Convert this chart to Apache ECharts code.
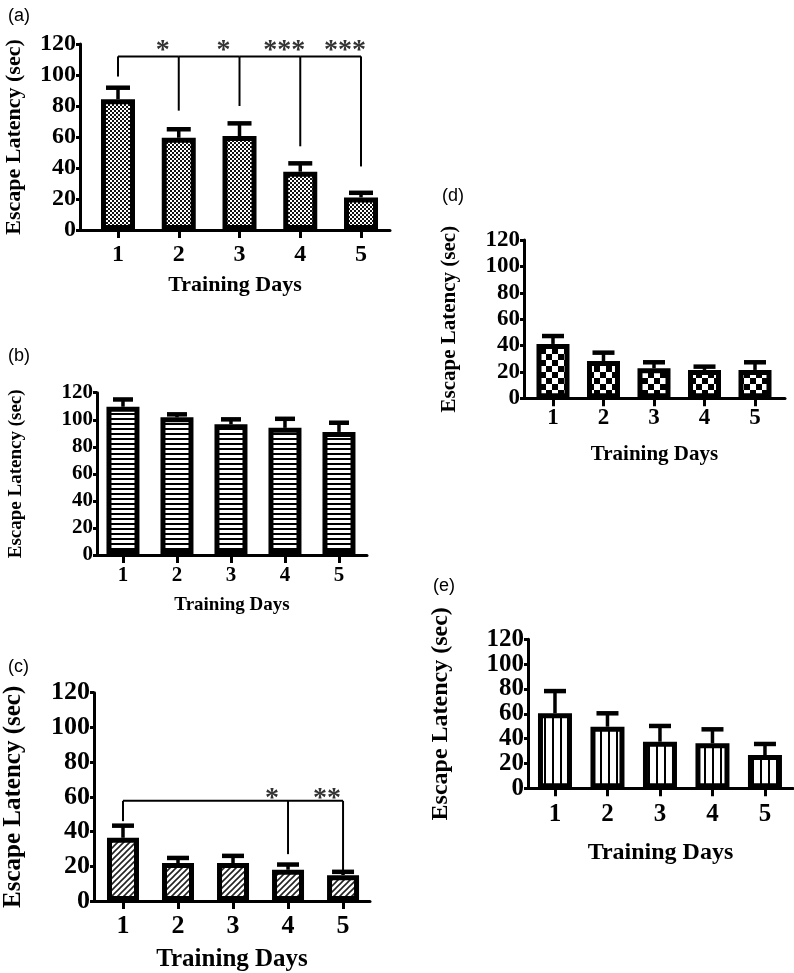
<!DOCTYPE html>
<html>
<head>
<meta charset="utf-8">
<script src="https://cdn.jsdelivr.net/npm/echarts@6/dist/echarts.min.js"></script>
<style>
html,body{margin:0;padding:0;background:#fff;}
#chart{width:794px;height:973px;}
</style>
</head>
<body>
<div id="chart"></div>
<script>
// ---- Data ----
const days = [1, 2, 3, 4, 5];
const yTicks = [0, 20, 40, 60, 80, 100, 120];

const meanA = [84.3, 59.5, 60.6, 37.6, 21.0];
const semA  = [7.5, 5.5, 8.2, 5.4, 3.0];
const meanB = [109.6, 101.8, 96.6, 94.0, 91.0];
const semB  = [5.4, 2.2, 3.7, 6.7, 6.8];
const meanC = [36.4, 21.9, 21.9, 18.0, 14.9];
const semC  = [7.0, 2.9, 4.1, 3.0, 1.9];
const meanD = [41.2, 28.3, 22.7, 21.5, 21.5];
const semD  = [6.0, 6.3, 4.6, 2.5, 5.8];
const meanE = [60.4, 49.6, 37.5, 36.2, 26.8];
const semE  = [17.9, 10.8, 12.7, 11.3, 8.9];

// significance brackets
const sigA_days  = [1, 2, 3, 4, 5];
const sigA_level = 112;
const sigA_ends  = [99, 77, 80, 54, 41];
const sigA_stars = ['', '*', '*', '***', '***'];

const sigC_days  = [1, 4, 5];
const sigC_level = 57.7;
const sigC_ends  = [46, 27, 16];
const sigC_stars = ['', '*', '**'];

const panelLabels = ['(a)', '(b)', '(c)', '(d)', '(e)'];
const xName = 'Training Days';
const yName = 'Escape Latency (sec)';

// ---- Patterns ----
function makePattern(kind) {
  const c = document.createElement('canvas');
  let ctx;
  if (kind === 'dots') {
    c.width = 4; c.height = 4; ctx = c.getContext('2d');
    ctx.fillStyle = '#fff'; ctx.fillRect(0, 0, 4, 4);
    ctx.fillStyle = '#111';
    ctx.fillRect(0, 0, 2, 2); ctx.fillRect(2, 2, 2, 2);
  } else if (kind === 'hlines') {
    c.width = 4; c.height = 5; ctx = c.getContext('2d');
    ctx.fillStyle = '#fff'; ctx.fillRect(0, 0, 4, 5);
    ctx.fillStyle = '#000'; ctx.fillRect(0, 3, 4, 2);
  } else if (kind === 'diag') {
    c.width = 6; c.height = 6; ctx = c.getContext('2d');
    ctx.fillStyle = '#fff'; ctx.fillRect(0, 0, 6, 6);
    ctx.strokeStyle = '#222'; ctx.lineWidth = 1.6;
    ctx.beginPath();
    ctx.moveTo(-1, 7); ctx.lineTo(7, -1);
    ctx.moveTo(-4, 4); ctx.lineTo(4, -4);
    ctx.moveTo(2, 10); ctx.lineTo(10, 2);
    ctx.stroke();
  } else if (kind === 'checker') {
    c.width = 12; c.height = 12; ctx = c.getContext('2d');
    ctx.fillStyle = '#fff'; ctx.fillRect(0, 0, 12, 12);
    ctx.fillStyle = '#000';
    ctx.fillRect(0, 0, 6, 6); ctx.fillRect(6, 6, 6, 6);
  } else if (kind === 'vlines') {
    c.width = 8; c.height = 4; ctx = c.getContext('2d');
    ctx.fillStyle = '#fff'; ctx.fillRect(0, 0, 8, 4);
    ctx.fillStyle = '#000'; ctx.fillRect(0, 0, 2, 4);
  }
  return { image: c, repeat: 'repeat' };
}

const SERIF = '"Liberation Serif", "Times New Roman", serif';

const panels = [
  { mean: meanA, sem: semA, pat: 'dots',    grid: { left: 80,  top: 44,    width: 310, height: 186 }, xr: [0.3745, 5.477], barW: 34, tickFont: 24, nameFont: 22, yNameGap: 55, xNameGap: 44, xLabelMargin: 13, capW: 24 },
  { mean: meanB, sem: semB, pat: 'hlines',  grid: { left: 97,  top: 392.7, width: 270, height: 162.3 }, xr: [0.519, 5.519], barW: 33, tickFont: 21, nameFont: 19, yNameGap: 71, xNameGap: 41, xLabelMargin: 10, capW: 20 },
  { mean: meanC, sem: semC, pat: 'diag',    grid: { left: 94,  top: 692.7, width: 276, height: 210 }, xr: [0.473, 5.49], barW: 32, tickFont: 26, nameFont: 25, yNameGap: 68, xNameGap: 46, xLabelMargin: 12, capW: 22 },
  { mean: meanD, sem: semD, pat: 'checker', grid: { left: 524, top: 240,   width: 261, height: 158.3 }, xr: [0.426, 5.594], barW: 33, tickFont: 23, nameFont: 21, yNameGap: 64, xNameGap: 46, xLabelMargin: 8, capW: 22 },
  { mean: meanE, sem: semE, pat: 'vlines',  grid: { left: 528, top: 639.3, width: 265, height: 149 }, xr: [0.486, 5.534], barW: 34, tickFont: 25, nameFont: 24, yNameGap: 75, xNameGap: 52, xLabelMargin: 14, capW: 22 }
];

const labelPos = [
  { left: 3, top: 2 }, { left: 3, top: 342 }, { left: 3, top: 653 }, { left: 437, top: 182 }, { left: 428, top: 572 }
];

const option = {
  backgroundColor: '#fff',
  animation: false,
  title: panelLabels.map((t, i) => ({
    text: t, left: labelPos[i].left, top: labelPos[i].top,
    textStyle: { fontFamily: '"Liberation Sans", Arial, sans-serif', fontWeight: 'normal', fontSize: 18, color: '#000' }
  })),
  grid: panels.map(p => Object.assign({ containLabel: false }, p.grid)),
  xAxis: panels.map((p, i) => ({
    type: 'value', gridIndex: i, min: p.xr[0], max: p.xr[1],
    name: xName, nameLocation: 'middle', nameGap: p.xNameGap,
    nameTextStyle: { fontFamily: SERIF, fontWeight: 'bold', fontSize: p.nameFont, color: '#000' },
    axisLine: { show: true, onZero: false, lineStyle: { color: '#000', width: 3 } },
    axisTick: { show: true, customValues: days, length: 8, lineStyle: { color: '#000', width: 3 } },
    axisLabel: { customValues: days, margin: p.xLabelMargin, fontFamily: SERIF, fontWeight: 'bold', fontSize: p.tickFont, color: '#000' },
    splitLine: { show: false }
  })),
  yAxis: panels.map((p, i) => ({
    type: 'value', gridIndex: i, min: yTicks[0], max: yTicks[yTicks.length - 1], interval: yTicks[1] - yTicks[0],
    name: yName, nameLocation: 'middle', nameGap: p.yNameGap, nameRotate: 90,
    nameTextStyle: { fontFamily: SERIF, fontWeight: 'bold', fontSize: p.nameFont, color: '#000' },
    axisLine: { show: true, lineStyle: { color: '#000', width: 3 } },
    axisTick: { show: true, length: 4, lineStyle: { color: '#000', width: 3 } },
    axisLabel: { margin: 4, fontFamily: SERIF, fontWeight: 'bold', fontSize: p.tickFont, color: '#000' },
    splitLine: { show: false }
  })),
  series: []
};

panels.forEach((p, i) => {
  option.series.push({
    type: 'bar', xAxisIndex: i, yAxisIndex: i, barWidth: p.barW,
    data: days.map((d, k) => [d, p.mean[k]]),
    itemStyle: { color: makePattern(p.pat), borderColor: '#000', borderWidth: 5 },
    z: 2
  });
  const cw = p.capW;
  option.series.push({
    type: 'custom', xAxisIndex: i, yAxisIndex: i, z: 3,
    data: days.map((d, k) => [d, p.mean[k], p.sem[k]]),
    renderItem: function (params, api) {
      const x = api.value(0), m = api.value(1), s = api.value(2);
      const p0 = api.coord([x, m]);
      const p1 = api.coord([x, m + s]);
      return {
        type: 'group', children: [
          { type: 'line', shape: { x1: p0[0], y1: p0[1], x2: p1[0], y2: p1[1] }, style: { stroke: '#000', lineWidth: 3.5 } },
          { type: 'line', shape: { x1: p1[0] - cw / 2, y1: p1[1], x2: p1[0] + cw / 2, y2: p1[1] }, style: { stroke: '#000', lineWidth: 4.5 } }
        ]
      };
    }
  });
});

function bracketSeries(axisIdx, sDays, level, ends, stars, fontSize, starDy) {
  return {
    type: 'custom', xAxisIndex: axisIdx, yAxisIndex: axisIdx, z: 4,
    data: sDays.map((d, k) => [d, ends[k], level, k > 0 ? sDays[k - 1] : d]),
    renderItem: function (params, api) {
      const x = api.value(0), e = api.value(1), lv = api.value(2), px = api.value(3);
      const top = api.coord([x, lv]);
      const bot = api.coord([x, e]);
      const prev = api.coord([px, lv]);
      const children = [
        { type: 'line', shape: { x1: top[0], y1: top[1], x2: bot[0], y2: bot[1] }, style: { stroke: '#000', lineWidth: 2 } }
      ];
      if (px !== x) {
        children.push({ type: 'line', shape: { x1: prev[0], y1: top[1], x2: top[0], y2: top[1] }, style: { stroke: '#000', lineWidth: 2 } });
      }
      const st = stars[params.dataIndex];
      if (st) {
        children.push({ type: 'text', style: { text: st, x: top[0] - 16, y: top[1] + starDy, fill: '#333', font: 'bold ' + fontSize + 'px ' + SERIF, align: 'center', verticalAlign: 'middle' } });
      }
      return { type: 'group', children: children };
    }
  };
}

option.series.push(bracketSeries(0, sigA_days, sigA_level, sigA_ends, sigA_stars, 28, -6));
option.series.push(bracketSeries(2, sigC_days, sigC_level, sigC_ends, sigC_stars, 28, -2));

const chart = echarts.init(document.getElementById('chart'), null, { renderer: 'canvas' });
chart.setOption(option);
</script>
</body>
</html>
